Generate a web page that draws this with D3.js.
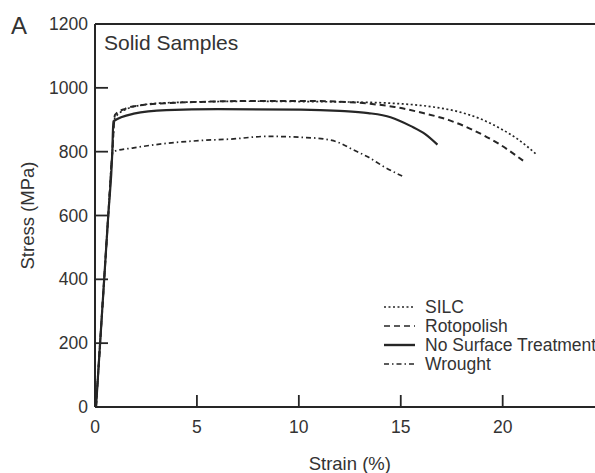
<!DOCTYPE html>
<html>
<head>
<meta charset="utf-8">
<script src="https://cdn.jsdelivr.net/npm/d3@7"></script>
<style>
  body { margin: 0; background: #fff; }
  text { font-family: "Liberation Sans", Arial, sans-serif; fill: #333; }
</style>
</head>
<body>
<div id="chart"></div>
<script>
// values (strain in %, stress in MPa)
var silcStrain = [0.05, 0.25, 0.45, 0.65, 0.85, 0.97, 1.6, 2.5, 3.5, 5.2, 7.6, 10.1, 13, 15, 16.6, 17.9, 18.9, 19.9, 20.7, 21.7];
var silcStress = [0, 200, 400, 600, 800, 905, 935, 948, 953, 956, 958, 957, 955, 950, 940, 924, 903, 872, 841, 789];

var rotoStrain = [0.05, 0.25, 0.45, 0.65, 0.85, 0.98, 1.5, 2.2, 3.5, 5.2, 7.6, 10.1, 12.5, 13.5, 14.7, 16.1, 17.4, 18.6, 19.8, 21];
var rotoStress = [0, 200, 400, 600, 800, 915, 935, 945, 952, 956, 959, 959, 955, 950, 940, 921, 898, 866, 825, 772];

var nstStrain = [0.05, 0.25, 0.45, 0.65, 0.85, 0.9, 1.9, 3.5, 6, 10.1, 12, 13.4, 14.5, 15.5, 16.2, 16.8];
var nstStress = [0, 200, 400, 600, 800, 895, 919, 930, 933, 932, 928, 921, 908, 880, 855, 822];

var wroStrain = [0.05, 0.25, 0.45, 0.65, 0.88, 1.9, 3.5, 5.2, 6.8, 8.4, 10.1, 11.2, 11.9, 12.6, 13.4, 14.2, 15.15];
var wroStress = [0, 200, 400, 600, 800, 812, 826, 835, 840, 848, 845, 840, 830, 808, 783, 752, 721];

var seriesNames = ["SILC", "Rotopolish", "No Surface Treatment", "Wrought"];
var xTicks = [0, 5, 10, 15, 20, 25];
var yTicks = [0, 200, 400, 600, 800, 1000, 1200];

var series = [
  {name: seriesNames[0], x: silcStrain, y: silcStress, dash: "2,2.5", w: 1.7},
  {name: seriesNames[1], x: rotoStrain, y: rotoStress, dash: "6,4", w: 2},
  {name: seriesNames[2], x: nstStrain, y: nstStress, dash: null, w: 2.2},
  {name: seriesNames[3], x: wroStrain, y: wroStress, dash: "5,3,1.5,3", w: 1.7}
];

var W = 595, H = 473;
var svg = d3.select("#chart").append("svg")
  .attr("width", W).attr("height", H);

var x = d3.scaleLinear().domain([0, 25]).range([95, 604.6]);
var y = d3.scaleLinear().domain([0, 1200]).range([407, 24]);

var ink = "#262626";

// frame: left, bottom, top
svg.append("line").attr("x1", 95).attr("x2", 95).attr("y1", y(1200)).attr("y2", y(0))
  .attr("stroke", ink).attr("stroke-width", 2);
svg.append("line").attr("x1", 95).attr("x2", W).attr("y1", y(0)).attr("y2", y(0))
  .attr("stroke", ink).attr("stroke-width", 2.2);
svg.append("line").attr("x1", 95).attr("x2", W).attr("y1", y(1200)).attr("y2", y(1200))
  .attr("stroke", ink).attr("stroke-width", 2);

// x ticks (inward)
svg.selectAll("line.xt").data(xTicks).enter().append("line")
  .attr("class", "xt")
  .attr("x1", d => x(d)).attr("x2", d => x(d))
  .attr("y1", y(0)).attr("y2", y(0) - 12)
  .attr("stroke", ink).attr("stroke-width", 1.8);
svg.selectAll("text.xl").data(xTicks).enter().append("text")
  .attr("class", "xl")
  .attr("x", d => x(d)).attr("y", 433)
  .attr("text-anchor", "middle")
  .style("font-size", "17.5px")
  .text(d => d);

// y ticks (inward)
svg.selectAll("line.yt").data(yTicks).enter().append("line")
  .attr("class", "yt")
  .attr("x1", 95).attr("x2", 108)
  .attr("y1", d => y(d)).attr("y2", d => y(d))
  .attr("stroke", ink).attr("stroke-width", 1.8);
svg.selectAll("text.yl").data(yTicks).enter().append("text")
  .attr("class", "yl")
  .attr("x", 88).attr("y", d => y(d))
  .attr("dy", "0.35em")
  .attr("text-anchor", "end")
  .style("font-size", "17.5px")
  .text(d => d);

// axis titles
svg.append("text")
  .attr("x", (x(0) + x(25)) / 2).attr("y", 470)
  .attr("text-anchor", "middle")
  .style("font-size", "18.5px")
  .text("Strain (%)");
svg.append("text")
  .attr("transform", "translate(34," + ((y(0) + y(1200)) / 2) + ") rotate(-90)")
  .attr("text-anchor", "middle")
  .style("font-size", "18.5px")
  .text("Stress (MPa)");

svg.append("text").attr("x", 11).attr("y", 34)
  .style("font-size", "24px").text("A");
svg.append("text").attr("x", 104).attr("y", 50)
  .style("font-size", "21px").text("Solid Samples");

// curves
var line = d3.line()
  .x(d => x(d[0])).y(d => y(d[1]))
  .curve(d3.curveMonotoneX);

svg.selectAll("path.curve").data(series).enter().append("path")
  .attr("class", "curve")
  .attr("d", s => line(d3.zip(s.x, s.y)))
  .attr("fill", "none")
  .attr("stroke", ink)
  .attr("stroke-width", s => s.w)
  .attr("stroke-dasharray", s => s.dash);

// legend
var leg = svg.append("g").attr("transform", "translate(384,307)");
var row = leg.selectAll("g").data(series).enter().append("g")
  .attr("transform", (d, i) => "translate(0," + i * 19 + ")");
row.append("line")
  .attr("x1", 0).attr("x2", 31).attr("y1", 0).attr("y2", 0)
  .attr("stroke", ink)
  .attr("stroke-width", d => d.dash ? 1.6 : 2.4)
  .attr("stroke-dasharray", d => d.dash);
row.append("text")
  .attr("x", 41).attr("y", 0).attr("dy", "0.36em")
  .style("font-size", "17.5px")
  .text(d => d.name);
</script>
</body>
</html>
